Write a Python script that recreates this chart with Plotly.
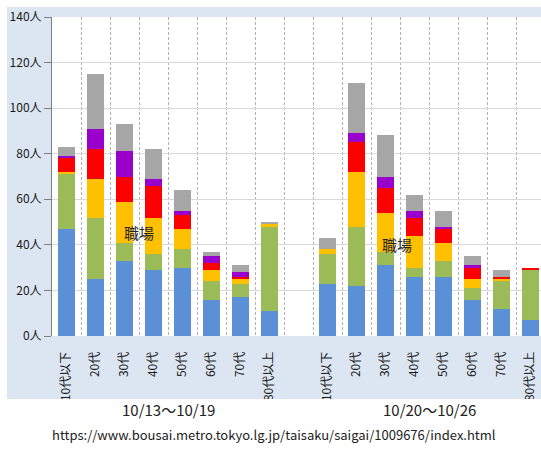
import plotly.graph_objects as go

# Age brackets shown in each weekly group
ages = ["10代以下", "20代", "30代", "40代", "50代", "60代", "70代", "80代以上"]
weeks = ["10/13〜10/19", "10/20〜10/26"]

# Stacked counts (people), bottom to top, week 1 then week 2
w1_blue   = [47, 25, 33, 29, 30, 16, 17, 11]
w1_green  = [24, 27, 8, 7, 8, 8, 6, 37]
w1_yellow = [1, 17, 18, 16, 9, 5, 2, 1]
w1_red    = [6, 13, 11, 14, 6, 3, 1, 0]
w1_purple = [1, 9, 11, 3, 2, 3, 2, 0]
w1_gray   = [4, 24, 12, 13, 9, 2, 3, 1]

w2_blue   = [23, 22, 31, 26, 26, 16, 12, 7]
w2_green  = [13, 26, 6, 4, 7, 5, 12, 22]
w2_yellow = [2, 24, 17, 14, 8, 4, 1, 0]
w2_red    = [0, 13, 11, 8, 6, 5, 1, 1]
w2_purple = [0, 4, 5, 3, 1, 1, 0, 0]
w2_gray   = [5, 22, 18, 7, 7, 4, 3, 0]

y_ticks = [0, 20, 40, 60, 80, 100, 120, 140]
note_text = "職場"
source_url = "https://www.bousai.metro.tokyo.lg.jp/taisaku/saigai/1009676/index.html"

series = [
    ("家庭内", "#5B8FD6", w1_blue, w2_blue),
    ("施設内", "#9BBB59", w1_green, w2_green),
    ("職場内", "#FFC000", w1_yellow, w2_yellow),
    ("会食", "#FF0000", w1_red, w2_red),
    ("接待を伴う飲食店", "#9900CC", w1_purple, w2_purple),
    ("その他", "#A6A6A6", w1_gray, w2_gray),
]

n = len(ages)
gap = 1  # one empty slot between the two weeks
x1 = list(range(n))
x2 = [n + gap + i for i in range(n)]
xs = x1 + x2

fig = go.Figure()
for name, color, a, b in series:
    fig.add_trace(go.Bar(
        x=xs, y=a + b, name=name, width=0.6,
        marker=dict(color=color, line=dict(width=0)),
    ))

W, H = 541, 455
ml, mr, mt, mb = 52, 0, 17, 119
pw, ph = W - ml - mr, H - mt - mb
slot_px = 29.0
x_lo = -0.5
x_hi = x_lo + pw / slot_px


def px_x(p):
    return (p - ml) / pw


def px_y(p):
    return (H - mb - p) / ph


def white_box(x0, x1, y0, y1):
    return dict(type="rect", xref="paper", yref="paper", layer="above",
                x0=px_x(x0), x1=px_x(x1), y0=px_y(y1), y1=px_y(y0),
                fillcolor="white", line=dict(width=0))


# the light panel is the page colour; white margins frame it
shapes = [
    white_box(-5, W + 5, -5, 7),      # top
    white_box(-5, 7, -5, H + 5),      # left
    white_box(-5, W + 5, 399, H + 5), # bottom
]

font_jp = "Noto Sans CJK JP"
annotations = [
    dict(x=2.5, y=45.5, xref="x", yref="y", text=note_text, showarrow=False,
         font=dict(family=font_jp, size=15, color="#262626")),
    dict(x=11.38, y=40, xref="x", yref="y", text=note_text, showarrow=False,
         font=dict(family=font_jp, size=15, color="#262626")),
]
for wk, grp in zip(weeks, [x1, x2]):
    cx = (grp[0] + grp[-1]) / 2
    annotations.append(dict(
        x=cx, y=px_y(422), xref="x", yref="paper", text=wk, showarrow=False,
        font=dict(family=font_jp, size=15, color="#222222")))
annotations.append(dict(
    x=px_x(274), y=px_y(446), xref="paper", yref="paper", text=source_url,
    showarrow=False, font=dict(family=font_jp, size=13, color="#222222")))

fig.update_layout(
    width=W, height=H,
    margin=dict(l=ml, r=mr, t=mt, b=mb, pad=0),
    barmode="stack", bargap=0,
    showlegend=False,
    paper_bgcolor="#DCE6F2", plot_bgcolor="white",
    shapes=shapes, annotations=annotations,
    xaxis=dict(
        range=[x_lo, x_hi], tickmode="array", tickvals=xs, ticktext=ages + ages,
        tickangle=-90, ticks="outside", ticklen=10, tickcolor="rgba(0,0,0,0)",
        showgrid=False, zeroline=False, showline=False,
        tickfont=dict(family=font_jp, size=12, color="#1a1a1a"),
        minor=dict(tickmode="array", tickvals=[i + 0.5 for i in range(2 * n + gap)],
                   showgrid=True, griddash="3px,2px", gridcolor="#B3B3B3",
                   gridwidth=1, ticks=""),
    ),
    yaxis=dict(
        range=[0, 140], tickmode="array", tickvals=y_ticks,
        ticktext=[f"{v}人" for v in y_ticks],
        showgrid=True, gridcolor="#D9D9D9", gridwidth=1, zeroline=False,
        showline=True, linecolor="#808080", linewidth=1,
        ticks="outside", ticklen=7, tickcolor="#808080",
        tickfont=dict(family=font_jp, size=12, color="#1a1a1a"),
    ),
)

fig.write_html("out.html")
